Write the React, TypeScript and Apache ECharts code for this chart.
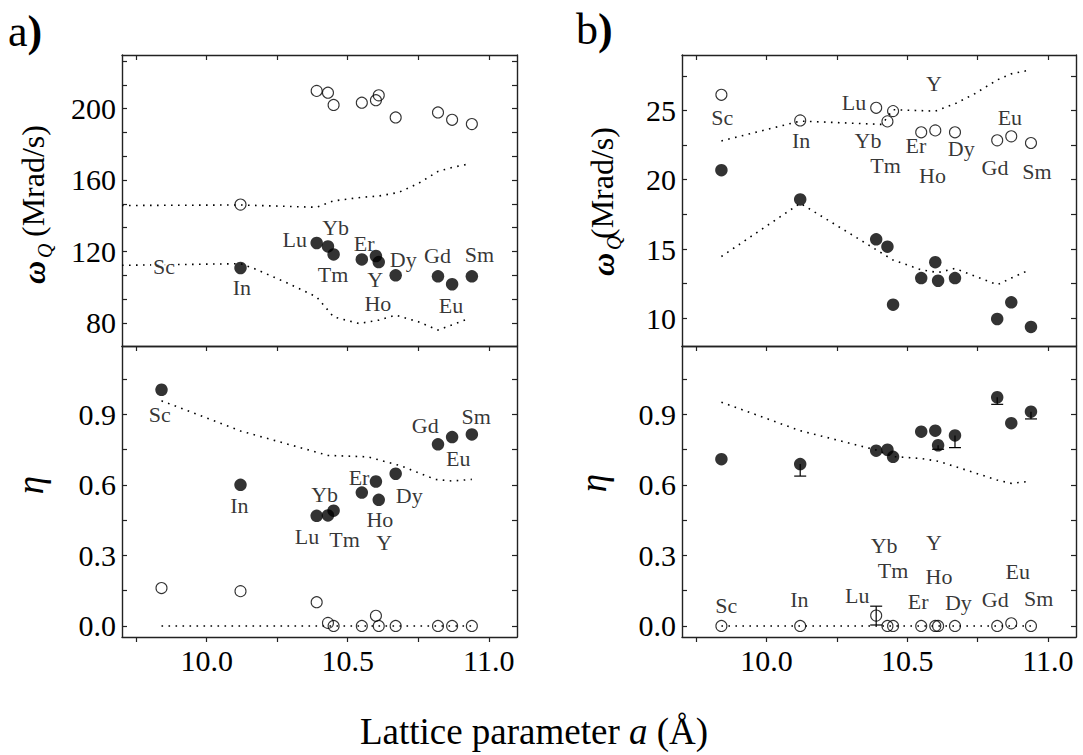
import React, { useEffect, useRef } from 'react';
import * as echarts from 'echarts';

const FONT = "'Liberation Serif', 'Times New Roman', Times, serif";

// ---------- data ----------
const ELEMENTS = ['Sc', 'In', 'Lu', 'Yb', 'Tm', 'Er', 'Ho', 'Y', 'Dy', 'Gd', 'Eu', 'Sm'];
const LATTICE = [9.84, 10.12, 10.39, 10.43, 10.45, 10.55, 10.60, 10.61, 10.67, 10.82, 10.87, 10.94];

// panel a) omega_Q (Mrad/s)
const A_W_FILLED = [null, 110.7, 124.7, 122.8, 118.3, 115.5, 117.4, 114.0, 106.6, 106.0, 101.6, 106.0];
const A_W_OPEN = [null, 146.2, 209.9, 208.9, 202.0, 203.3, 204.7, 207.4, 195.0, 197.8, 193.7, 191.3];
const A_W_CALC_UP_X = [9.70, 10.12, 10.39, 10.45, 10.55, 10.61, 10.68, 10.75, 10.82, 10.87, 10.93];
const A_W_CALC_UP_Y = [145.7, 146.0, 144.7, 148.3, 150.3, 151.0, 153.0, 158.0, 164.8, 167.0, 169.0];
const A_W_CALC_LO_X = [9.70, 10.12, 10.17, 10.29, 10.39, 10.45, 10.54, 10.61, 10.67, 10.75, 10.82, 10.93];
const A_W_CALC_LO_Y = [112.2, 113.1, 110.3, 102.0, 94.5, 83.3, 79.6, 81.5, 84.3, 80.6, 75.9, 82.4];

// panel a) eta
const A_ETA_FILLED = [1.004, 0.600, 0.468, 0.470, 0.490, 0.567, 0.614, 0.536, 0.647, 0.772, 0.803, 0.814];
const A_ETA_OPEN = [0.161, 0.148, 0.101, 0.013, 0.0, 0.0, 0.043, 0.0, 0.0, 0.0, 0.0, 0.0];
const A_ETA_CALC_UP_X = [9.84, 10.12, 10.43, 10.57, 10.69, 10.81, 10.87, 10.94];
const A_ETA_CALC_UP_Y = [0.957, 0.829, 0.725, 0.719, 0.680, 0.623, 0.616, 0.623];
const A_ETA_CALC_LO_X = [9.84, 10.94];
const A_ETA_CALC_LO_Y = [0.0, 0.0];

// panel b) omega_Q (Mrad/s)
const B_W_FILLED = [20.69, 18.58, 15.70, 15.17, 10.98, 12.90, 14.05, 12.71, 12.90, 9.95, 11.15, 9.38];
const B_W_OPEN = [26.13, 24.28, 25.19, 24.21, 24.95, 23.42, 23.56, null, 23.42, 22.84, 23.13, 22.65];
const B_W_CALC_UP_X = [9.84, 10.12, 10.41, 10.45, 10.53, 10.60, 10.67, 10.74, 10.82, 10.87, 10.94];
const B_W_CALC_UP_Y = [22.8, 24.23, 23.99, 25.05, 25.0, 24.95, 25.48, 26.2, 27.2, 27.64, 27.93];
const B_W_CALC_LO_X = [9.84, 10.12, 10.29, 10.45, 10.55, 10.61, 10.67, 10.82, 10.87, 10.93];
const B_W_CALC_LO_Y = [14.46, 18.3, 16.2, 14.2, 13.5, 13.3, 13.6, 12.42, 12.9, 13.45];

// panel b) eta
const B_ETA_FILLED = [0.709, 0.688, 0.745, 0.749, 0.719, 0.826, 0.830, 0.768, 0.810, 0.972, 0.862, 0.911];
const B_ETA_FILLED_ERR_LOW = [null, 0.637, null, null, null, null, null, 0.751, 0.758, 0.942, null, 0.880];
const B_ETA_OPEN = [0.0, 0.0, 0.044, 0.0, 0.0, 0.0, 0.0, 0.0, 0.0, 0.0, 0.011, 0.0];
const B_ETA_OPEN_ERR = [null, null, 0.04, null, null, null, null, null, null, null, null, null];
const B_ETA_CALC_UP_X = [9.84, 10.12, 10.39, 10.45, 10.55, 10.61, 10.67, 10.82, 10.87, 10.93];
const B_ETA_CALC_UP_Y = [0.951, 0.830, 0.748, 0.720, 0.712, 0.700, 0.678, 0.620, 0.606, 0.614];
const B_ETA_CALC_LO_X = [9.84, 10.94];
const B_ETA_CALC_LO_Y = [0.0, 0.0];

// element labels [text, x, y] in data units
const A_W_LABELS = [
  ['Sc', 9.849, 111.3], ['In', 10.125, 99.7], ['Lu', 10.312, 126.5], ['Yb', 10.457, 133.6],
  ['Tm', 10.448, 107.0], ['Er', 10.558, 124.3], ['Dy', 10.697, 115.3], ['Y', 10.597, 104.3],
  ['Ho', 10.607, 90.6], ['Gd', 10.818, 117.8], ['Eu', 10.866, 89.9], ['Sm', 10.967, 118.1],
];
const A_ETA_LABELS = [
  ['Sc', 9.834, 0.9], ['In', 10.116, 0.512], ['Yb', 10.418, 0.559], ['Lu', 10.356, 0.381],
  ['Tm', 10.489, 0.367], ['Er', 10.54, 0.63], ['Ho', 10.614, 0.451], ['Y', 10.629, 0.355],
  ['Dy', 10.718, 0.554], ['Gd', 10.775, 0.853], ['Eu', 10.892, 0.711], ['Sm', 10.955, 0.889],
];
const B_W_LABELS = [
  ['Sc', 9.843, 24.52], ['In', 10.123, 22.84], ['Lu', 10.311, 25.6], ['Yb', 10.361, 22.84],
  ['Tm', 10.423, 21.05], ['Er', 10.531, 22.48], ['Y', 10.595, 26.92], ['Ho', 10.59, 20.33],
  ['Dy', 10.692, 22.24], ['Gd', 10.812, 20.85], ['Eu', 10.865, 24.52], ['Sm', 10.961, 20.56],
];
const B_ETA_LABELS = [
  ['Sc', 9.857, 0.089], ['In', 10.117, 0.113], ['Lu', 10.323, 0.131], ['Yb', 10.418, 0.344],
  ['Tm', 10.45, 0.234], ['Er', 10.539, 0.103], ['Y', 10.595, 0.354], ['Ho', 10.613, 0.21],
  ['Dy', 10.682, 0.1], ['Gd', 10.813, 0.113], ['Eu', 10.893, 0.233], ['Sm', 10.967, 0.117],
];

// axes ticks / labels
const X_MIN = 9.7;
const X_MAX = 11.1;
const X_TICKS = [9.75, 10, 10.25, 10.5, 10.75, 11];
const X_TICK_LABELS = [10, 10.5, 11];
const A_W_RANGE = [67, 230];
const A_W_TICKS = [80, 93.333, 106.667, 120, 133.333, 146.667, 160, 173.333, 186.667, 200, 213.333, 226.667];
const A_W_TICK_LABELS = [80, 120, 160, 200];
const B_W_RANGE = [8, 29];
const B_W_TICKS = [10, 12.5, 15, 17.5, 20, 22.5, 25, 27.5];
const B_W_TICK_LABELS = [10, 15, 20, 25];
const ETA_RANGE = [-0.047, 1.19];
const ETA_TICKS = [0, 0.15, 0.3, 0.45, 0.6, 0.75, 0.9, 1.05];
const ETA_TICK_LABELS = [0, 0.3, 0.6, 0.9];

// ---------- helpers ----------
const AXIS_LINE = { show: true, onZero: false, lineStyle: { color: '#222', width: 1.4 } };
const TICK_STYLE = { color: '#222', width: 1.2 };

function xAxesFor(grid: number, isUpper: boolean, showLabels: boolean) {
  const bottom = {
    type: 'value', gridIndex: grid, min: X_MIN, max: X_MAX, position: 'bottom',
    axisLine: AXIS_LINE,
    axisTick: { show: true, inside: false, length: 5, customValues: X_TICKS, lineStyle: TICK_STYLE },
    axisLabel: {
      show: showLabels, customValues: X_TICK_LABELS, formatter: (v: number) => v.toFixed(1),
      fontSize: 30, fontFamily: FONT, color: '#000', margin: 8,
    },
    splitLine: { show: false },
  };
  const top = {
    type: 'value', gridIndex: grid, min: X_MIN, max: X_MAX, position: 'top',
    axisLine: AXIS_LINE,
    axisTick: { show: isUpper, inside: true, length: 5, customValues: X_TICKS, lineStyle: TICK_STYLE },
    axisLabel: { show: false },
    splitLine: { show: false },
  };
  return [bottom, top];
}

function yAxesFor(grid: number, range: number[], ticks: number[], labels: number[], fmt: (v: number) => string) {
  const left = {
    type: 'value', gridIndex: grid, min: range[0], max: range[1], position: 'left',
    axisLine: AXIS_LINE,
    axisTick: { show: true, inside: true, length: 5, customValues: ticks, lineStyle: TICK_STYLE },
    axisLabel: { show: true, customValues: labels, formatter: fmt, fontSize: 30, fontFamily: FONT, color: '#000', margin: 6 },
    splitLine: { show: false },
  };
  const right = {
    type: 'value', gridIndex: grid, min: range[0], max: range[1], position: 'right',
    axisLine: AXIS_LINE,
    axisTick: { show: true, inside: true, length: 5, customValues: ticks, lineStyle: TICK_STYLE },
    axisLabel: { show: false },
    splitLine: { show: false },
  };
  return [left, right];
}

function pairs(vals: (number | null)[]) {
  const out: number[][] = [];
  vals.forEach((v, i) => { if (v !== null && v !== undefined) out.push([LATTICE[i], v]); });
  return out;
}

function calcLine(grid: number, xs: number[], ys: number[]) {
  return {
    type: 'line', xAxisIndex: grid * 2, yAxisIndex: grid * 2,
    data: xs.map((x, i) => [x, ys[i]]), symbol: 'none', silent: true, z: 1,
    lineStyle: { color: '#000', width: 1.6, type: [1.6, 5.4] },
  };
}

function filled(grid: number, vals: (number | null)[]) {
  return {
    type: 'scatter', xAxisIndex: grid * 2, yAxisIndex: grid * 2, data: pairs(vals),
    symbol: 'circle', symbolSize: 12.5, itemStyle: { color: '#000' }, silent: true, z: 4,
  };
}

function open(grid: number, vals: (number | null)[]) {
  return {
    type: 'scatter', xAxisIndex: grid * 2, yAxisIndex: grid * 2, data: pairs(vals),
    symbol: 'circle', symbolSize: 11,
    itemStyle: { color: 'rgba(0,0,0,0)', borderColor: '#000', borderWidth: 1.1 }, silent: true, z: 5,
  };
}

function labels(grid: number, items: any[], whiteBg: string[] = []) {
  return {
    type: 'scatter', xAxisIndex: grid * 2, yAxisIndex: grid * 2,
    data: items.map(([n, x, y]) => ({
      name: n, value: [x, y],
      label: whiteBg.indexOf(n) >= 0 ? { backgroundColor: '#fff', padding: [0, 2] } : undefined,
    })),
    symbol: 'circle', symbolSize: 1, itemStyle: { color: 'rgba(0,0,0,0)' }, silent: true, z: 6,
    label: {
      show: true, position: 'inside', formatter: '{b}', fontSize: 22, lineHeight: 19,
      fontFamily: FONT, color: '#000',
    },
  };
}

function errorBars(grid: number, rows: number[][]) {
  return {
    type: 'custom', xAxisIndex: grid * 2, yAxisIndex: grid * 2, silent: true, z: 3,
    data: rows, encode: { x: 0, y: [1, 2, 3] },
    renderItem: (params: any, api: any) => {
      const x = api.value(0);
      const y = api.value(1);
      const lo = api.value(2);
      const hi = api.value(3);
      const pLo = api.coord([x, lo]);
      const pHi = api.coord([x, hi]);
      const st = { stroke: '#000', lineWidth: 1.2 };
      const cw = 6;
      const children: any[] = [
        { type: 'line', shape: { x1: pLo[0], y1: pLo[1], x2: pHi[0], y2: pHi[1] }, style: st },
        { type: 'line', shape: { x1: pLo[0] - cw, y1: pLo[1], x2: pLo[0] + cw, y2: pLo[1] }, style: st },
      ];
      if (hi > y) children.push({ type: 'line', shape: { x1: pHi[0] - cw, y1: pHi[1], x2: pHi[0] + cw, y2: pHi[1] }, style: st });
      return { type: 'group', children };
    },
  };
}

function rotText(x: number, y: number, text: string, font: string, align = 'left') {
  return {
    type: 'text', x, y, rotation: Math.PI / 2, silent: true,
    style: { text, font, fill: '#000', align, verticalAlign: 'middle', textAlign: align, textVerticalAlign: 'middle' },
  };
}

function panelLetter(x: number, y: number, letter: string) {
  return {
    type: 'text', x, y, silent: true,
    style: {
      text: `{n|${letter}}{b|)}`, fill: '#000', align: 'left', verticalAlign: 'middle', textAlign: 'left', textVerticalAlign: 'middle',
      rich: {
        n: { fontSize: 44, fontFamily: FONT, fill: '#000' },
        b: { fontSize: 44, fontFamily: FONT, fontWeight: 'bold', fill: '#000' },
      },
    },
  };
}

export default function App() {
  const ref = useRef<HTMLDivElement>(null);
  useEffect(() => {
    if (!ref.current) return;
    const chart = echarts.init(ref.current, undefined, { renderer: 'svg' });

    const grids = [
      { left: 122, top: 55, width: 395, height: 291 },
      { left: 122, top: 346, width: 395, height: 291 },
      { left: 682, top: 55, width: 394, height: 291 },
      { left: 682, top: 346, width: 394, height: 291 },
    ];

    const xAxis = [
      ...xAxesFor(0, true, false),
      ...xAxesFor(1, false, true),
      ...xAxesFor(2, true, false),
      ...xAxesFor(3, false, true),
    ];
    const etaFmt = (v: number) => v.toFixed(1);
    const wFmt = (v: number) => String(v);
    const yAxis = [
      ...yAxesFor(0, A_W_RANGE, A_W_TICKS, A_W_TICK_LABELS, wFmt),
      ...yAxesFor(1, ETA_RANGE, ETA_TICKS, ETA_TICK_LABELS, etaFmt),
      ...yAxesFor(2, B_W_RANGE, B_W_TICKS, B_W_TICK_LABELS, wFmt),
      ...yAxesFor(3, ETA_RANGE, ETA_TICKS, ETA_TICK_LABELS, etaFmt),
    ];

    const bEtaFilledErr: number[][] = [];
    B_ETA_FILLED_ERR_LOW.forEach((lo, i) => {
      if (lo !== null) bEtaFilledErr.push([LATTICE[i], B_ETA_FILLED[i], lo, B_ETA_FILLED[i]]);
    });
    const bEtaOpenErr: number[][] = [];
    B_ETA_OPEN_ERR.forEach((e, i) => {
      if (e !== null) bEtaOpenErr.push([LATTICE[i], B_ETA_OPEN[i], B_ETA_OPEN[i] - e, B_ETA_OPEN[i] + e]);
    });

    const series = [
      calcLine(0, A_W_CALC_UP_X, A_W_CALC_UP_Y),
      calcLine(0, A_W_CALC_LO_X, A_W_CALC_LO_Y),
      filled(0, A_W_FILLED),
      open(0, A_W_OPEN),
      labels(0, A_W_LABELS, ['Sc']),

      calcLine(1, A_ETA_CALC_UP_X, A_ETA_CALC_UP_Y),
      calcLine(1, A_ETA_CALC_LO_X, A_ETA_CALC_LO_Y),
      filled(1, A_ETA_FILLED),
      open(1, A_ETA_OPEN),
      labels(1, A_ETA_LABELS),

      calcLine(2, B_W_CALC_UP_X, B_W_CALC_UP_Y),
      calcLine(2, B_W_CALC_LO_X, B_W_CALC_LO_Y),
      filled(2, B_W_FILLED),
      open(2, B_W_OPEN),
      labels(2, B_W_LABELS),

      calcLine(3, B_ETA_CALC_UP_X, B_ETA_CALC_UP_Y),
      calcLine(3, B_ETA_CALC_LO_X, B_ETA_CALC_LO_Y),
      errorBars(3, bEtaFilledErr),
      errorBars(3, bEtaOpenErr),
      filled(3, B_ETA_FILLED),
      open(3, B_ETA_OPEN),
      labels(3, B_ETA_LABELS),
    ];

    const graphic = [
      panelLetter(8, 31, 'a'),
      panelLetter(576, 29, 'b'),
      // panel a y titles
      rotText(34, 284, 'ω', `italic bold 32px ${FONT}`),
      rotText(45, 258, 'Q', `italic 20px ${FONT}`),
      rotText(33, 237, '(Mrad/s)', `32px ${FONT}`),
      rotText(30, 485, 'η', `italic 37px ${FONT}`, 'center'),
      // panel b y titles
      rotText(603, 276, 'ω', `italic bold 32px ${FONT}`),
      rotText(614, 250, 'Q', `italic 20px ${FONT}`),
      rotText(602, 239, '(Mrad/s)', `32px ${FONT}`),
      rotText(593, 483, 'η', `italic 37px ${FONT}`, 'center'),
      // x title
      {
        type: 'text', x: 534, y: 731, silent: true,
        style: {
          text: '{n|Lattice parameter }{i|a}{n| (Å)}', fill: '#000',
          align: 'center', verticalAlign: 'middle', textAlign: 'center', textVerticalAlign: 'middle',
          rich: {
            n: { fontSize: 37, fontFamily: FONT, fill: '#000' },
            i: { fontSize: 37, fontFamily: FONT, fontStyle: 'italic', fill: '#000' },
          },
        },
      },
    ];

    chart.setOption({
      animation: false,
      backgroundColor: '#fff',
      grid: grids,
      xAxis,
      yAxis,
      series,
      graphic,
    } as any);

    return () => chart.dispose();
  }, []);

  return (
    <div
      ref={ref}
      style={{ position: 'fixed', left: 0, top: 0, width: 1083, height: 755, background: '#fff' }}
    />
  );
}
